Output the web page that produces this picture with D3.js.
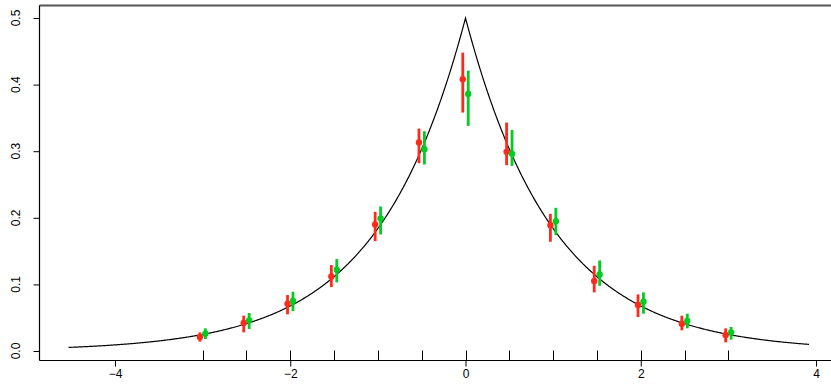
<!DOCTYPE html>
<html>
<head>
<meta charset="utf-8">
<script src="https://cdn.jsdelivr.net/npm/d3@7"></script>
<style>
  body { margin: 0; background: #fff; }
  svg { display: block; font-family: "Liberation Sans", Arial, sans-serif; }
</style>
</head>
<body>
<div id="chart"></div>
<script>
// data
const xs = [-3, -2.5, -2, -1.5, -1, -0.5, 0, 0.5, 1, 1.5, 2, 2.5, 3];
const redY   = [0.021, 0.042, 0.071, 0.112, 0.190, 0.313, 0.408, 0.299, 0.189, 0.105, 0.069, 0.041, 0.024];
const redLo  = [0.014, 0.028, 0.055, 0.096, 0.165, 0.282, 0.358, 0.279, 0.164, 0.088, 0.051, 0.031, 0.013];
const redHi  = [0.028, 0.053, 0.084, 0.129, 0.209, 0.334, 0.448, 0.343, 0.206, 0.128, 0.085, 0.053, 0.034];
const greenY  = [0.026, 0.046, 0.075, 0.122, 0.199, 0.303, 0.386, 0.296, 0.195, 0.115, 0.074, 0.045, 0.028];
const greenLo = [0.018, 0.033, 0.060, 0.103, 0.175, 0.280, 0.338, 0.278, 0.174, 0.098, 0.056, 0.034, 0.017];
const greenHi = [0.034, 0.057, 0.089, 0.138, 0.217, 0.330, 0.421, 0.332, 0.215, 0.136, 0.088, 0.056, 0.036];
const xTicks = [-4, -2, 0, 2, 4];
const yTicks = [0, 0.1, 0.2, 0.3, 0.4, 0.5];
const curveRange = [-4.53, 3.92];

const width = 831, height = 385;
const svg = d3.select('#chart').append('svg')
    .attr('width', width)
    .attr('height', height);

const x = d3.scaleLinear().domain([-4, 4]).range([115, 816]);
const y = d3.scaleLinear().domain([0, 0.5]).range([351, 18]);
const frameLeft = 39.5, frameBottom = 360.5, frameTop = 5.5;

// frame lines
svg.append('line').attr('x1', frameLeft).attr('x2', width).attr('y1', frameTop).attr('y2', frameTop)
    .attr('stroke', '#555').attr('stroke-width', 2);
svg.append('line').attr('x1', frameLeft).attr('x2', width).attr('y1', frameBottom).attr('y2', frameBottom)
    .attr('stroke', '#000').attr('stroke-width', 1.2);
svg.append('line').attr('x1', frameLeft).attr('x2', frameLeft).attr('y1', frameTop).attr('y2', frameBottom)
    .attr('stroke', '#000').attr('stroke-width', 1.2);

// x axis
const xAxis = svg.append('g').attr('transform', `translate(0,${frameBottom})`)
    .call(d3.axisBottom(x).tickValues(xTicks).tickSize(6).tickPadding(3)
        .tickFormat(d => d < 0 ? '\u2212' + Math.abs(d) : d));
xAxis.select('.domain').remove();
xAxis.selectAll('text').attr('font-size', 12).attr('fill', '#000');

// rug ticks at data positions
svg.append('g').selectAll('line').data(xs).enter().append('line')
    .attr('x1', d => Math.round(x(d)) + 0.5).attr('x2', d => Math.round(x(d)) + 0.5)
    .attr('y1', frameBottom - 10).attr('y2', frameBottom)
    .attr('stroke', '#000').attr('stroke-width', 1);

// y axis
const yAxis = svg.append('g').attr('transform', `translate(${frameLeft},0)`)
    .call(d3.axisLeft(y).tickValues(yTicks).tickSize(6).tickFormat(d3.format('.1f')));
yAxis.select('.domain').remove();
yAxis.selectAll('.tick').attr('transform', null);
yAxis.selectAll('.tick line').attr('y1', d => y(d) + 0.5).attr('y2', d => y(d) + 0.5);
yAxis.selectAll('text')
    .attr('font-size', 12).attr('fill', '#000')
    .attr('text-anchor', 'middle')
    .attr('x', 0).attr('y', 0).attr('dy', 0)
    .attr('transform', d => `translate(-20,${y(d)}) rotate(-90)`);

// laplace density curve
const curvePts = d3.range(curveRange[0], curveRange[1] + 1e-9, 0.01);
curvePts.push(0);
curvePts.sort((a, b) => a - b);
svg.append('path')
    .datum(curvePts)
    .attr('fill', 'none')
    .attr('stroke', '#000')
    .attr('stroke-width', 1.2)
    .attr('d', d3.line().x(d => x(d)).y(d => y(0.5 * Math.exp(-Math.abs(d)))));

// error bars and points
function drawSeries(vals, lo, hi, color, offset) {
    const g = svg.append('g');
    g.selectAll('line').data(xs).enter().append('line')
        .attr('x1', d => x(d + offset)).attr('x2', d => x(d + offset))
        .attr('y1', (d, i) => y(lo[i])).attr('y2', (d, i) => y(hi[i]))
        .attr('stroke', color).attr('stroke-width', 2.8);
    g.selectAll('circle').data(xs).enter().append('circle')
        .attr('cx', d => x(d + offset))
        .attr('cy', (d, i) => y(vals[i]))
        .attr('r', 3.2)
        .attr('fill', color);
}
drawSeries(redY, redLo, redHi, '#ff2a1a', -0.031);
drawSeries(greenY, greenLo, greenHi, '#00cc22', 0.031);
</script>
</body>
</html>
